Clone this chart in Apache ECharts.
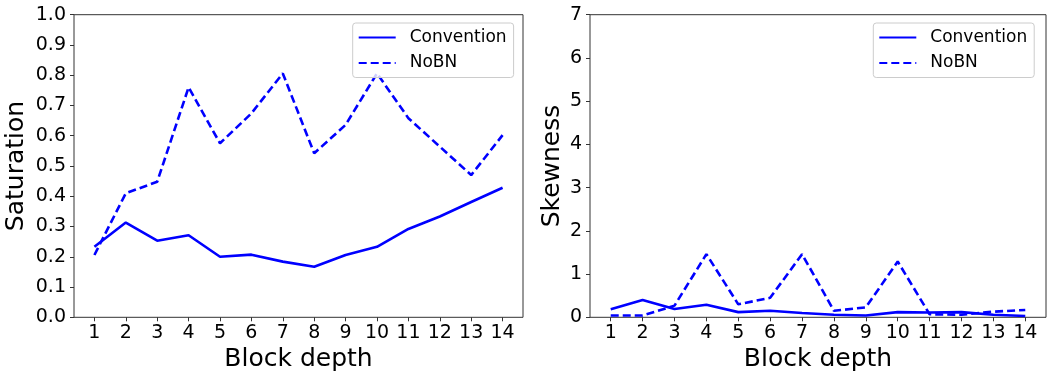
<!DOCTYPE html>
<html>
<head>
<meta charset="utf-8">
<script src="https://cdn.jsdelivr.net/npm/echarts@6/dist/echarts.min.js"></script>
<style>
  html, body { margin: 0; padding: 0; background: #fff; }
  #chart { width: 1047px; height: 373px; }
</style>
</head>
<body>
<div id="chart"></div>
<script>
// Block depths along the x axis
const blockDepths = [1, 2, 3, 4, 5, 6, 7, 8, 9, 10, 11, 12, 13, 14];

// Saturation per block
const saturationConvention = [0.233, 0.313, 0.253, 0.271, 0.200, 0.207, 0.184, 0.167, 0.206, 0.233, 0.292, 0.333, 0.381, 0.428];
const saturationNoBN = [0.206, 0.410, 0.448, 0.760, 0.575, 0.674, 0.806, 0.542, 0.636, 0.806, 0.658, 0.564, 0.470, 0.602];

// Skewness per block
const skewnessConvention = [0.185, 0.40, 0.19, 0.29, 0.12, 0.15, 0.10, 0.06, 0.04, 0.12, 0.11, 0.12, 0.06, 0.03];
const skewnessNoBN = [0.04, 0.04, 0.27, 1.46, 0.30, 0.45, 1.46, 0.15, 0.23, 1.29, 0.07, 0.06, 0.13, 0.17];

// Tick labels
const saturationTicks = [0, 0.1, 0.2, 0.3, 0.4, 0.5, 0.6, 0.7, 0.8, 0.9, 1.0];
const skewnessTicks = [0, 1, 2, 3, 4, 5, 6, 7];

const FONT = 'DejaVu Sans';
const BLUE = '#0000ff';

const pairs = (vals) => blockDepths.map((d, i) => [d, vals[i]]);

function xAxisFor(gridIndex) {
  return {
    type: 'value', gridIndex,
    min: 0.35, max: 14.65,
    name: 'Block depth', nameLocation: 'middle', nameGap: 29,
    nameTextStyle: { fontFamily: FONT, fontSize: 25, color: '#000' },
    axisLine: { show: false },
    axisTick: { show: true, customValues: blockDepths, length: 4, inside: false, lineStyle: { color: '#333', width: 1 } },
    axisLabel: { customValues: blockDepths, fontFamily: FONT, fontSize: 19, color: '#000', margin: 6 },
    splitLine: { show: false }
  };
}

function yAxisFor(gridIndex, name, ticks, digits, gap) {
  return {
    type: 'value', gridIndex,
    min: ticks[0], max: ticks[ticks.length - 1], interval: ticks[1] - ticks[0],
    name, nameLocation: 'middle', nameGap: gap,
    nameTextStyle: { fontFamily: FONT, fontSize: 25, color: '#000' },
    axisLine: { show: false },
    axisTick: { show: true, length: 4, lineStyle: { color: '#333', width: 1 } },
    axisLabel: { fontFamily: FONT, fontSize: 19, color: '#000', margin: 8,
      formatter: (v) => v.toFixed(digits) },
    splitLine: { show: false }
  };
}

function lineSeries(name, idx, vals, dashed) {
  return {
    name, type: 'line', xAxisIndex: idx, yAxisIndex: idx,
    data: pairs(vals),
    symbol: 'none', silent: true, animation: false,
    lineStyle: { color: BLUE, width: 2.6, type: dashed ? [8, 4] : 'solid' },
    itemStyle: { color: BLUE }
  };
}

function legendAt(left) {
  return {
    left, top: 23, orient: 'vertical',
    data: ['Convention', 'NoBN'],
    itemWidth: 37, itemHeight: 14, itemGap: 8.5,
    padding: [6, 7, 6, 5],
    backgroundColor: 'rgba(255,255,255,0.8)',
    borderColor: '#cccccc', borderWidth: 1, borderRadius: 3,
    selectedMode: false,
    // legend keys show only the line stroke
    itemStyle: { color: 'rgba(0,0,0,0)', borderWidth: 0, opacity: 0 },
    textStyle: { fontFamily: FONT, fontSize: 17, color: '#000', padding: [0, 0, 0, 9] }
  };
}

const chart = echarts.init(document.getElementById('chart'), null, { renderer: 'canvas' });
chart.setOption({
  animation: false,
  backgroundColor: '#fff',
  grid: [
    { left: 74, top: 14.7, width: 449, height: 302.6, outerBoundsMode: 'none', show: true, borderColor: '#333', borderWidth: 1, backgroundColor: 'transparent' },
    { left: 590, top: 14.7, width: 456, height: 302.6, outerBoundsMode: 'none', show: true, borderColor: '#333', borderWidth: 1, backgroundColor: 'transparent' }
  ],
  xAxis: [xAxisFor(0), xAxisFor(1)],
  yAxis: [
    yAxisFor(0, 'Saturation', saturationTicks, 1, 45),
    yAxisFor(1, 'Skewness', skewnessTicks, 0, 25)
  ],
  legend: [legendAt(352.7), legendAt(873.3)],
  series: [
    lineSeries('Convention', 0, saturationConvention, false),
    lineSeries('NoBN', 0, saturationNoBN, true),
    lineSeries('Convention', 1, skewnessConvention, false),
    lineSeries('NoBN', 1, skewnessNoBN, true)
  ]
});
</script>
</body>
</html>
